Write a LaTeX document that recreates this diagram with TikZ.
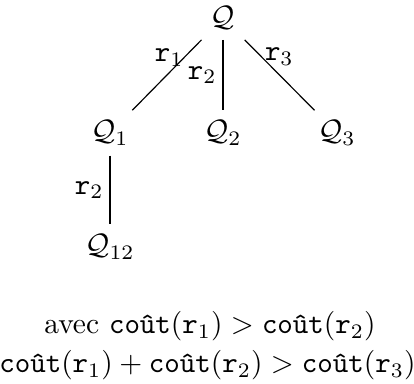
\documentclass[tikz,border=0pt]{standalone}
\usepackage{amsmath,amssymb}
\usetikzlibrary{positioning}

\begin{document}
\begin{tikzpicture}
  \tikzset{
    qnode/.style={inner sep=3.33pt},
    rlabel/.style={inner sep=2pt},
    condline/.style={anchor=base, inner sep=0pt}
  }
  \useasboundingbox (0,0) rectangle (4.931,-4.562);

  %% Root and children
  \node[qnode] (Q)   at (2.656,-0.214) {$\mathcal{Q}$};
  \node[qnode] (Q1)  at (1.310,-1.584) {$\mathcal{Q}_1$};
  \node[qnode] (Q2)  at (2.656,-1.584) {$\mathcal{Q}_2$};
  \node[qnode] (Q3)  at (4.014,-1.584) {$\mathcal{Q}_3$};
  \node[qnode] (Q12) at (1.310,-2.942) {$\mathcal{Q}_{12}$};

  %% Edges with their rule labels
  \draw (Q)  -- node[rlabel, inner sep=0pt, pos=0.25, left] (r1) {$\mathtt{r}_1$} (Q1);
  \draw (Q)  -- node[rlabel, pos=0.5, left]  (r2)  {$\mathtt{r}_2$} (Q2);
  \draw (Q)  -- node[rlabel, inner sep=1pt, pos=0.24, right] (r3) {$\mathtt{r}_3$} (Q3);
  \draw (Q1) -- node[rlabel, pos=0.5, left]  (r12) {$\mathtt{r}_2$} (Q12);

  %% Cost conditions
  \node[condline] (cond1) at (2.501,-3.978) {avec $\texttt{coût}(\mathtt{r}_1) > \texttt{coût}(\mathtt{r}_2)$};
  \node[condline] (cond2) at (2.471,-4.442) {$\texttt{coût}(\mathtt{r}_1) + \texttt{coût}(\mathtt{r}_2) > \texttt{coût}(\mathtt{r}_3)$};
\end{tikzpicture}
\end{document}
